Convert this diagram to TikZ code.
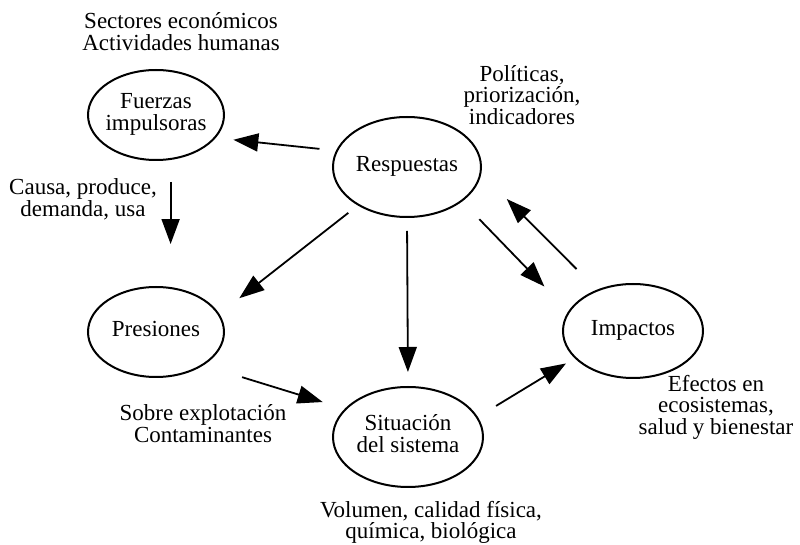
\documentclass[tikz,border=0pt]{standalone}
\usepackage{fontspec}
\setmainfont{Liberation Serif}
\usetikzlibrary{arrows.meta,shapes.geometric}

\begin{document}
\begin{tikzpicture}[
  x=0.5pt, y=-0.5pt,
  font=\fontsize{11.5}{10.8}\selectfont,
  st/.style 2 args={draw, ellipse, line width=1pt, inner sep=-4pt, align=center,
             minimum width=#1, minimum height=#2,
             execute at begin node=\strut, execute at end node=\strut},
  lbl/.style={align=center, inner sep=0pt,
             execute at begin node=\strut, execute at end node=\strut},
  arr/.style={-{Triangle[length=12.5pt, width=9pt]}, line width=0.9pt},
]
\useasboundingbox (0,0) rectangle (800,545);

% The five stages of the cycle.
\node[st={68pt}{45pt}] (F) at (156,115) {Fuerzas\\impulsoras};
\node[st={74pt}{50pt}] (R) at (407,167) {Respuestas};
\node[st={68pt}{45pt}] (P) at (156,332) {Presiones};
\node[st={75pt}{50pt}] (S) at (408,437) {Situación\\del sistema};
\node[st={70pt}{47pt}] (I) at (633,331) {Impactos};

% What each stage stands for.
\node[lbl] (sec) at (181,35) {Sectores económicos\\Actividades humanas};
\node[lbl] (cau) at (83,201) {Causa, produce,\\demanda, usa};
\node[lbl] (pol) at (522,98) {Políticas,\\priorización,\\indicadores};
\node[lbl] (sob) at (203,427) {Sobre explotación\\Contaminantes};
\node[lbl] (vol) at (431,523) {Volumen, calidad física,\\química, biológica};
\node[lbl] (efe) at (716,408) {Efectos en\\ecosistemas,\\salud y bienestar};

% The cycle.
\draw[arr, shorten <=8.3pt, shorten >=8.8pt] (R.167.9) -- (F.-21.5);
\draw[arr, shorten <=11pt, shorten >=21.5pt] (F.-72.35) -- (P.72.35);
\draw[arr, shorten <=6pt, shorten >=12.65pt] (R.-142.2) -- (P.16.6);
\draw[arr, shorten <=6.5pt, shorten >=7pt] (R.south) -- (S.north);
\draw[arr, shorten <=12.3pt, shorten >=17.2pt] (R.-32.6) -- (I.163.1);
\draw[arr, shorten <=14.5pt, shorten >=18pt] (I.131.2) -- (R.-5);
\draw[arr, shorten <=20.15pt, shorten >=11.5pt] (P.-35.1) -- (S.156.8);
\draw[arr, shorten <=10.65pt, shorten >=5pt] (S.16.3) -- (I.205.1);

\end{tikzpicture}
\end{document}
